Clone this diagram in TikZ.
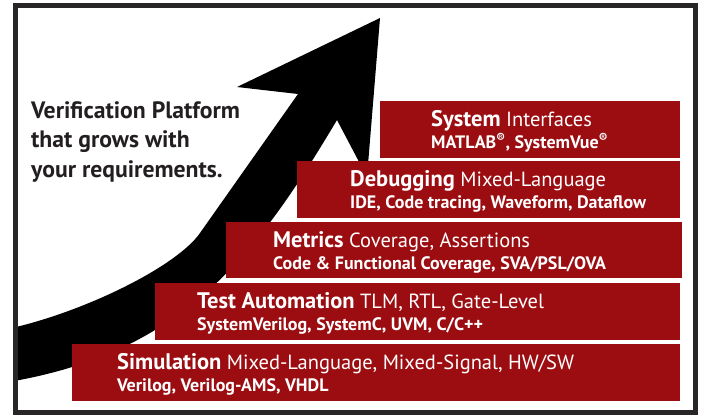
\documentclass[tikz,border=0pt]{standalone}
\usepackage{fontspec}
\setmainfont{PT Sans}
\definecolor{tierred}{RGB}{155,13,17}
\definecolor{framegray}{RGB}{40,38,39}
\definecolor{inkgray}{RGB}{35,31,32}
\tikzset{
  tier/.style={fill=tierred,inner sep=0pt,anchor=north west,minimum height=57pt},
  tierhead/.style={text=white,anchor=base west,inner sep=0pt,font=\fontsize{20.5}{24}\selectfont},
  tiersub/.style={text=white,anchor=base west,inner sep=0pt,font=\fontsize{18}{20}\selectfont\bfseries},
}
\newcommand{\regmark}{\textsuperscript{\textregistered}}
\newcommand{\tierkey}[1]{{\fontsize{22.5}{24}\selectfont\bfseries #1}}

\begin{document}
\begin{tikzpicture}[x=1pt,y=-1pt]
  \useasboundingbox[fill=white] (0,0) rectangle (701,415);
  % the growth arrow, drawn before the tiers hide its lower part
  \fill[black] (14,327.5) .. controls (88,310) and (177,266) .. (200,233)
    -- (298,94) -- (237,87) -- (380,18) -- (367,177) -- (337,120)
    .. controls (260,249) and (188,350) .. (14,381) -- cycle;
  \node[font=\fontsize{23.7}{29.5}\selectfont\bfseries,text=inkgray,align=left,
    anchor=base west,inner sep=0pt] (claim) at (31,177)
    {Verification Platform\\that grows with\\your requirements.};
  % tiers, top to bottom
  \node[tier,minimum width=300pt] (sys) at (380,101) {};
  \node[tierhead] (syshead) at ([shift={(51,25.5)}]sys.north west) {\tierkey{System} Interfaces};
  \node[tiersub] (syssub) at ([shift={(51,47.5)}]sys.north west) {MATLAB\regmark, SystemVue\regmark};
  \node[tier,minimum width=383pt] (dbg) at (297,161) {};
  \node[tierhead] (dbghead) at ([shift={(53,25.5)}]dbg.north west) {\tierkey{Debugging} Mixed-Language};
  \node[tiersub] (dbgsub) at ([shift={(53,47.5)}]dbg.north west) {IDE, Code tracing, Waveform, Dataflow};
  \node[tier,minimum width=456pt,minimum height=56pt] (met) at (226,222) {};
  \node[tierhead] (methead) at ([shift={(47,25.5)}]met.north west) {\tierkey{Metrics} Coverage, Assertions};
  \node[tiersub] (metsub) at ([shift={(47,47.5)}]met.north west) {Code \& Functional Coverage, SVA/PSL/OVA};
  \node[tier,minimum width=525pt] (tst) at (155,283) {};
  \node[tierhead] (tsthead) at ([shift={(42,25.5)}]tst.north west) {\tierkey{Test Automation} TLM, RTL, Gate-Level};
  \node[tiersub] (tstsub) at ([shift={(42,47.5)}]tst.north west) {SystemVerilog, SystemC, UVM, C/C++};
  \node[tier,minimum width=608pt] (sim) at (72,344) {};
  \node[tierhead] (simhead) at ([shift={(45,25.5)}]sim.north west) {\tierkey{Simulation} Mixed-Language, Mixed-Signal, HW/SW};
  \node[tiersub] (simsub) at ([shift={(45,47.5)}]sim.north west) {Verilog, Verilog-AMS, VHDL};
  % frame
  \draw[framegray,line width=5pt] (15,5.5) rectangle (695.5,412.5);
\end{tikzpicture}
\end{document}
